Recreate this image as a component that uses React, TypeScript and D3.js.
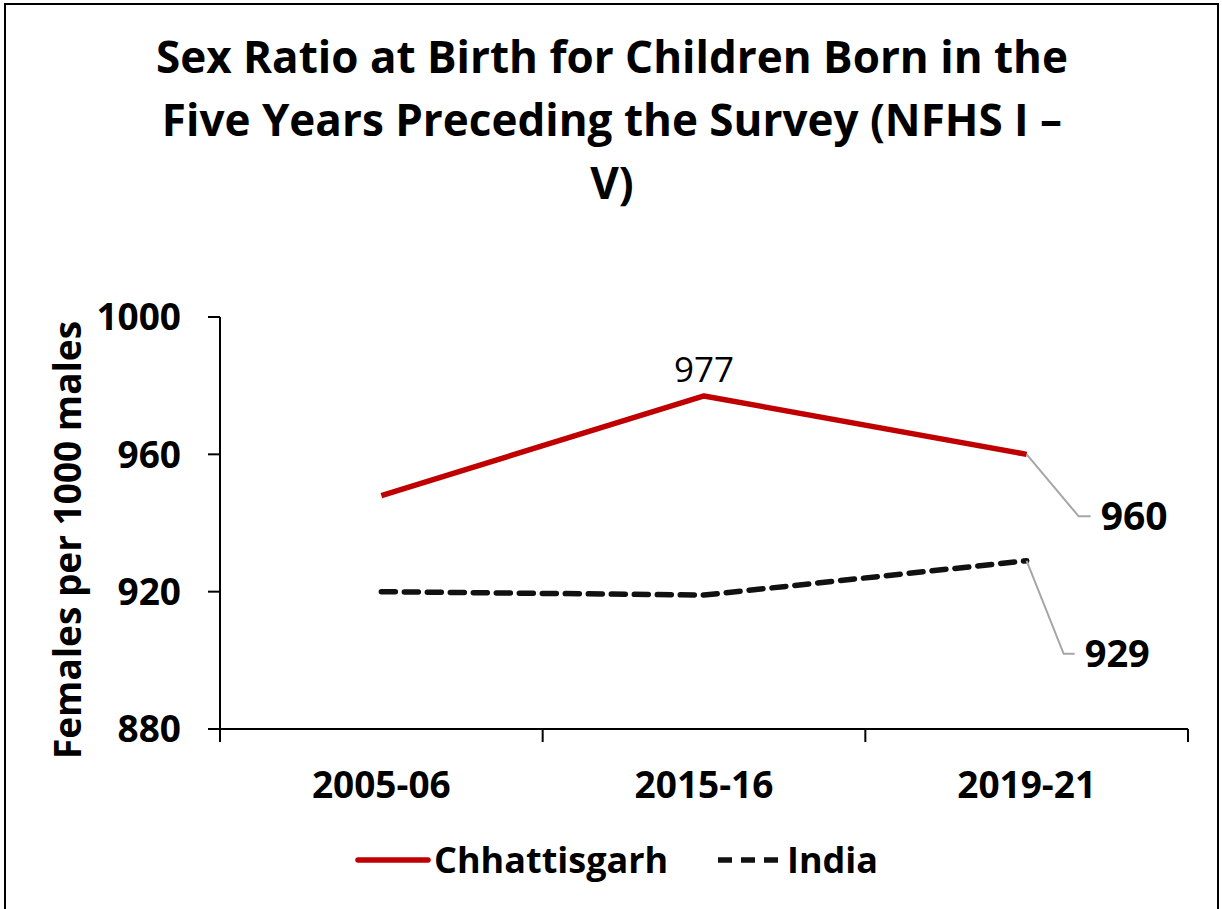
import React from 'react';
import * as d3 from 'd3';

// rounds of the survey shown on the x axis
const rounds = ['2005-06', '2015-16', '2019-21'];
// females per 1000 males
const chhattisgarh = [948, 977, 960];
const india = [920, 919, 929];
const yTicks = [880, 920, 960, 1000];
const titleLines = ['Sex Ratio at Birth for Children Born in the', 'Five Years Preceding the Survey (NFHS I –', 'V)'];

const W = 1222;
const H = 909;
const font = "'Open Sans', Lato, sans-serif";

export default function App() {
  const margin = { top: 317, right: 34, bottom: 180, left: 220 };

  const x = d3.scaleBand().domain(rounds).range([margin.left, W - margin.right]);
  const y = d3.scaleLinear().domain([880, 1000]).range([H - margin.bottom, margin.top]);
  const cx = (r: string) => (x(r) as number) + x.bandwidth() / 2;

  const line = d3.line<number>()
    .x((_, i) => cx(rounds[i]))
    .y(d => y(d));

  const bandEdges = [...rounds.map(r => x(r) as number), W - margin.right];
  const last = rounds.length - 1;

  // label offsets for the last points (leader lines)
  const lbl960 = { bx: 52, by: 62, ex: 64, tx: 74 };
  const lbl929 = { bx: 37, by: 93, ex: 48, tx: 58 };

  return (
    <svg width={W} height={H} style={{ position: 'absolute', left: 0, top: 0, background: '#fff' }} fontFamily={font}>
      <rect x={5} y={4} width={1213} height={H + 10} fill="none" stroke="#000" strokeWidth={2} />

      {titleLines.map((t, i) => (
        <text key={i} x={612} y={73 + i * 63} textAnchor="middle" fontSize={44} fontWeight="bold">{t}</text>
      ))}

      {/* y axis */}
      <line x1={margin.left} x2={margin.left} y1={y(1000)} y2={y(880) + 13} stroke="#000" strokeWidth={2} />
      {yTicks.map(t => (
        <g key={t}>
          <line x1={margin.left - 12} x2={margin.left} y1={y(t)} y2={y(t)} stroke="#000" strokeWidth={2} />
          <text x={181} y={y(t)} dy="0.36em" textAnchor="end" fontSize={37} fontWeight="bold">{t}</text>
        </g>
      ))}
      <text transform={`translate(68,${(y(1000) + y(880)) / 2 + 17}) rotate(-90)`} textAnchor="middle"
        dy="0.36em" fontSize={37} fontWeight="bold">Females per 1000 males</text>

      {/* x axis */}
      <line x1={margin.left} x2={W - margin.right} y1={y(880)} y2={y(880)} stroke="#000" strokeWidth={2} />
      {bandEdges.map((e, i) => (
        <line key={i} x1={e} x2={e} y1={y(880)} y2={y(880) + 13} stroke="#000" strokeWidth={2} />
      ))}
      {rounds.map(r => (
        <text key={r} x={cx(r)} y={798} textAnchor="middle" fontSize={37} fontWeight="bold">{r}</text>
      ))}

      {/* series */}
      <path d={line(chhattisgarh) as string} fill="none" stroke="#C00000" strokeWidth={5.5} strokeLinejoin="round" />
      <path d={line(india) as string} fill="none" stroke="#111" strokeWidth={5.5} strokeDasharray="14 9" strokeLinecap="round" />

      {/* data labels */}
      <text x={cx(rounds[1])} y={y(chhattisgarh[1]) - 14} textAnchor="middle" fontSize={35}>{chhattisgarh[1]}</text>

      <polyline fill="none" stroke="#a6a6a6" strokeWidth={2}
        points={`${cx(rounds[last])},${y(chhattisgarh[last])} ${cx(rounds[last]) + lbl960.bx},${y(chhattisgarh[last]) + lbl960.by} ${cx(rounds[last]) + lbl960.ex},${y(chhattisgarh[last]) + lbl960.by}`} />
      <text x={cx(rounds[last]) + lbl960.tx} y={y(chhattisgarh[last]) + lbl960.by} dy="0.36em" fontSize={39} fontWeight="bold">{chhattisgarh[last]}</text>

      <polyline fill="none" stroke="#a6a6a6" strokeWidth={2}
        points={`${cx(rounds[last])},${y(india[last])} ${cx(rounds[last]) + lbl929.bx},${y(india[last]) + lbl929.by} ${cx(rounds[last]) + lbl929.ex},${y(india[last]) + lbl929.by}`} />
      <text x={cx(rounds[last]) + lbl929.tx} y={y(india[last]) + lbl929.by} dy="0.36em" fontSize={38} fontWeight="bold">{india[last]}</text>

      {/* legend */}
      <g fontSize={36} fontWeight="bold">
        <line x1={358} x2={428} y1={860} y2={860} stroke="#C00000" strokeWidth={5.5} strokeLinecap="round" />
        <text x={434} y={860} dy="0.36em">Chhattisgarh</text>
        <line x1={718} x2={780} y1={860} y2={860} stroke="#111" strokeWidth={5.5} strokeDasharray="14 9" />
        <text x={787} y={860} dy="0.36em">India</text>
      </g>
    </svg>
  );
}
